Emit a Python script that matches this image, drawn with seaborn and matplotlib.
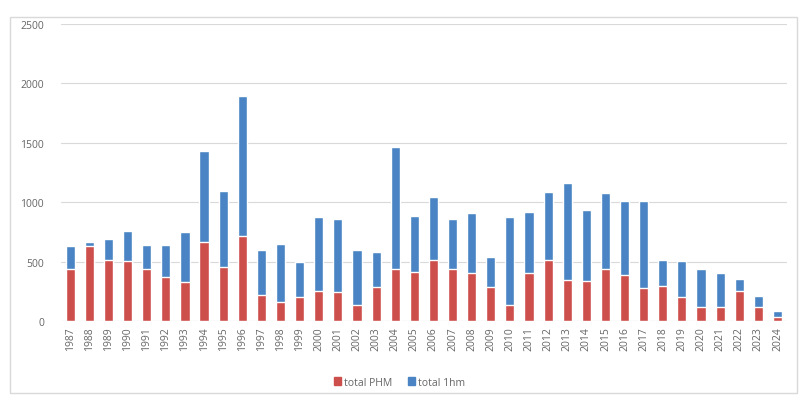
import pandas as pd
import matplotlib
matplotlib.use("Agg")
import matplotlib.pyplot as plt
import seaborn as sns
from matplotlib.patches import Rectangle, Patch

# Ani si valori
ani = [str(a) for a in range(1987, 2025)]
total_phm = [437, 631, 512, 505, 437, 370, 328, 665, 455, 715,
             219, 160, 200, 250, 245, 135, 285, 437, 410, 512,
             437, 400, 285, 135, 400, 512, 345, 340, 437, 387,
             280, 295, 200, 118, 118, 250, 118, 35]
total_general = [631, 665, 690, 757, 640, 640, 750, 1430, 1095, 1894,
                 598, 648, 500, 875, 860, 600, 583, 1465, 882, 1045,
                 860, 905, 540, 875, 915, 1085, 1160, 935, 1080, 1010,
                 1010, 512, 505, 437, 400, 353, 210, 85]
total_1hm = [t - p for t, p in zip(total_general, total_phm)]

df = pd.DataFrame({"An": ani, "PHM": total_phm, "1hm": total_1hm, "Total": total_general})

rosu = "#CD4F4C"
albastru = "#4A84C4"

sns.set_style("white")
plt.rcParams["font.family"] = ["Open Sans", "DejaVu Sans"]

fig = plt.figure(figsize=(7.99, 4.02), dpi=100)
ax = fig.add_axes([0.076, 0.199, 0.909, 0.739])

# bara totala (albastru) si peste ea partea PHM (rosu)
sns.barplot(data=df, x="An", y="Total", color=albastru, width=0.48, ax=ax, saturation=1)
sns.barplot(data=df, x="An", y="PHM", color=rosu, width=0.48, ax=ax, saturation=1)

ax.set_ylim(0, 2500)
ax.set_yticks([0, 500, 1000, 1500, 2000, 2500])
ax.set_xlim(-0.5, len(ani) - 0.5)
ax.set_xlabel("")
ax.set_ylabel("")
ax.yaxis.grid(True, color="#D9D9D9", linewidth=0.8)
ax.set_axisbelow(True)
for s in ax.spines.values():
    s.set_visible(False)
ax.axhline(0, color="#D9D9D9", linewidth=0.8, zorder=0)
ax.tick_params(axis="both", length=0, colors="#666666", labelsize=7.5, pad=4)
ax.tick_params(axis="y", pad=12)
plt.setp(ax.get_xticklabels(), rotation=90)

# legenda jos
handles = [Patch(color=rosu, label="total PHM"), Patch(color=albastru, label="total 1hm")]
fig.legend(handles=handles, loc="center", bbox_to_anchor=(0.5, 0.047), ncol=2, frameon=False,
           fontsize=7.5, handlelength=0.7, handleheight=0.7, handletextpad=0.3, columnspacing=1.5,
           labelcolor="#666666")

# chenarul gri al graficului
fig.patches.append(Rectangle((0.013, 0.02), 0.985, 0.935, transform=fig.transFigure,
                             fill=False, edgecolor="#D9D9D9", linewidth=1))

fig.savefig("out.png", dpi=100)
